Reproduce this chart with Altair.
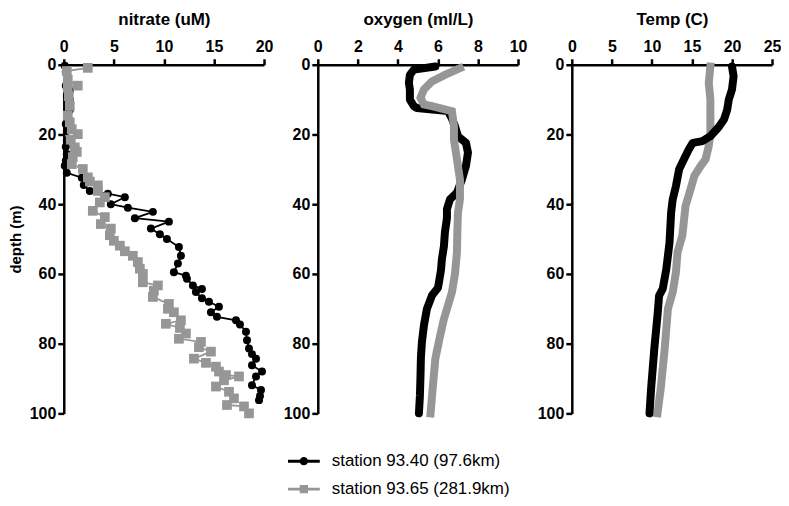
import altair as alt
import pandas as pd

STATIONS = ["station 93.40 (97.6km)", "station 93.65 (281.9km)"]
COLORS = ["#000000", "#969696"]

# ---- nitrate (uM) ----
nit_a_depth = [0.3, 2, 4.6, 6, 7.4, 9, 10, 12, 13, 15, 17, 19, 21.7, 23.5, 25.6, 27.5, 29, 31,
               32.4, 34.5, 36.2, 37, 38, 40, 41, 42.2, 44, 45, 47, 48.6, 50, 52.3, 54.8, 57,
               59.5, 60.5, 61.4, 63.3, 64.3, 65.2, 67, 68, 69.4, 71, 72.3, 73.3, 74.5, 76.6,
               79, 81.4, 83, 84.3, 86.2, 88, 89.4, 91.9, 93.3, 95, 96.2]
nit_a_value = [0.1, 0.2, 0.4, 0.2, 0.6, 0.3, 0.6, 0.4, 0.6, 0.4, 0.2, 0.3, 0.3, 0.2, 0.3, 0.2, 0.1, 0.3,
               1.8, 2.0, 2.6, 4.4, 6.1, 4.7, 6.4, 8.9, 7.1, 10.5, 8.7, 9.6, 10.3, 11.5, 11.7, 11.4,
               11.0, 12.2, 12.3, 12.9, 13.8, 13.2, 13.8, 14.5, 15.5, 14.7, 15.3, 17.2, 17.6, 18.2,
               18.3, 18.5, 18.8, 19.2, 18.8, 19.8, 19.2, 18.8, 19.7, 19.6, 19.5]
nit_b_depth = [0.9, 1.8, 4.3, 6, 6.6, 9, 11.8, 14.6, 16.5, 18.5, 19.9, 21.5, 23.7, 25, 26.5, 28.5,
               29.9, 32.3, 33.5, 34.6, 36.2, 38, 39.5, 41.9, 43.7, 45.7, 47, 48.9, 50.5, 51.9, 53.5,
               54.8, 56.6, 58.5, 60, 62.4, 63.3, 64.8, 66.6, 68.6, 70, 71, 73.3, 74.3, 75.5, 77.1,
               78.6, 79.5, 81, 82.3, 84.3, 85.5, 86.6, 88, 89, 89.4, 90.5, 92.3, 93.8, 95.7, 97.6,
               98, 100]
nit_b_value = [2.4, 0.3, 0.4, 1.4, 0.4, 0.5, 0.6, 0.4, 0.6, 0.8, 1.4, 0.7, 1.1, 1.3, 0.9, 0.8,
               1.9, 2.4, 2.6, 3.4, 3.4, 4.1, 3.6, 2.9, 4.1, 3.7, 4.7, 4.6, 5.0, 5.6, 6.1,
               6.9, 7.4, 7.6, 7.9, 7.9, 9.4, 9.0, 8.9, 10.5, 10.4, 11.0, 11.7, 10.2, 11.6, 12.2,
               11.5, 13.7, 13.5, 14.7, 13.0, 14.2, 15.2, 15.5, 16.2, 17.5, 16.0, 15.2, 16.5, 17.0, 16.3,
               18.0, 18.5]

# ---- oxygen (ml/L) ----
oxy_a_depth = [0.5, 1.4, 2.9, 5.2, 7.1, 10, 11.9, 12.4, 13.3, 15.5, 17.6, 20.5, 22.4, 25.2, 29,
               32.9, 36.7, 38.6, 41.4, 44, 48, 52, 55.7, 59, 62.4, 64, 66.2, 70, 74.8, 79.5, 84,
               89, 95, 100]
oxy_a_value = [5.87, 4.8, 4.6, 4.55, 4.6, 4.6, 4.8, 4.95, 6.5, 6.7, 6.85, 7.0, 7.4, 7.5, 7.4,
               7.2, 6.95, 6.6, 6.45, 6.45, 6.35, 6.3, 6.2, 6.15, 6.05, 6.0, 5.7, 5.45, 5.3, 5.2, 5.15,
               5.13, 5.1, 5.05]
oxy_b_depth = [1, 2.9, 4.8, 7.1, 9.5, 11.4, 11.9, 13.3, 17.6, 21.4, 27.1, 32.9, 38.6, 42.4, 48,
               53.8, 60, 65.2, 72.9, 78, 84.3, 92, 100]
oxy_b_value = [7.1, 6.35, 5.7, 5.3, 5.13, 5.3, 5.7, 6.7, 6.8, 6.8, 6.95, 7.1, 7.1, 7.0, 6.97,
               6.95, 6.85, 6.7, 6.3, 6.1, 5.87, 5.75, 5.63]

# ---- temperature (C) ----
tmp_a_depth = [0.5, 3.3, 7.1, 10, 12.9, 15.7, 18, 20.5, 21.9, 22.4, 24.3, 27.1, 30, 34.8, 38.6,
               42.4, 51, 58.6, 64.3, 66.2, 71.9, 81.4, 92.9, 100]
tmp_a_value = [20.0, 20.2, 20.0, 19.6, 19.4, 19.0, 18.3, 17.3, 16.3, 15.1, 14.6, 14.0, 13.4, 13.0,
               12.6, 12.4, 12.2, 11.8, 11.35, 10.9, 10.7, 10.3, 9.9, 9.7]
tmp_b_depth = [0.5, 5.2, 10, 14.8, 19.5, 23.3, 27.1, 29, 31.9, 36.7, 40.5, 49, 53.8, 59.5, 65.2,
               70, 81.4, 92.9, 100]
tmp_b_value = [17.3, 17.1, 17.3, 17.3, 17.3, 17.1, 16.7, 16.1, 15.3, 14.7, 14.2, 13.8, 13.2, 13.0,
               12.6, 12.0, 11.6, 11.1, 10.7]

FONT = "Liberation Sans"
W, H = 201, 350

LEGEND_PATHS = [
    "M-1,-0.09H1V0.09H-1Z M0.26,0 A0.26,0.26 0 1,1 -0.26,0 A0.26,0.26 0 1,1 0.26,0Z",
    "M-1,-0.09H1V0.09H-1Z M-0.26,-0.26H0.26V0.26H-0.26Z",
]


def frame(depth, value, station):
    return pd.DataFrame({"depth": depth, "value": value, "station": station})


def enc_xy(title, xmax, step, ytitle):
    x = alt.X("value:Q",
              scale=alt.Scale(domain=[0, xmax], nice=False, zero=True),
              axis=alt.Axis(orient="top", title=title, values=list(range(0, xmax + 1, step))))
    yaxis = alt.Axis(values=[0, 20, 40, 60, 80, 100], title=ytitle) if ytitle else \
        alt.Axis(values=[0, 20, 40, 60, 80, 100], title="")
    y = alt.Y("depth:Q", scale=alt.Scale(domain=[0, 100], reverse=True, nice=False), axis=yaxis)
    return x, y


def series_layers(dfa, dfb, x, y, thick, gray_on_top):
    layers_a = []
    layers_b = []
    if thick:
        layers_a.append(alt.Chart(dfa).mark_line(color=COLORS[0], strokeWidth=8, strokeCap="round",
                                                 strokeJoin="round")
                        .encode(x=x, y=y, order="depth:Q"))
        layers_b.append(alt.Chart(dfb).mark_line(color=COLORS[1], strokeWidth=8, strokeCap="square",
                                                 strokeJoin="miter")
                        .encode(x=x, y=y, order="depth:Q"))
    else:
        layers_a.append(alt.Chart(dfa).mark_line(color=COLORS[0], strokeWidth=1.8)
                        .encode(x=x, y=y, order="depth:Q"))
        layers_a.append(alt.Chart(dfa).mark_point(color=COLORS[0], filled=True, opacity=1,
                                                  shape="circle", size=64)
                        .encode(x=x, y=y))
        layers_b.append(alt.Chart(dfb).mark_line(color=COLORS[1], strokeWidth=1.8)
                        .encode(x=x, y=y, order="depth:Q"))
        layers_b.append(alt.Chart(dfb).mark_point(color=COLORS[1], filled=True, opacity=1,
                                                  shape="square", size=95)
                        .encode(x=x, y=y))
    return layers_a + layers_b if gray_on_top else layers_b + layers_a


LEG = dict(title=None, orient="none", legendX=225, legendY=386)

# nitrate panel
x1, y1 = enc_xy("nitrate (uM)", 20, 5, "depth (m)")
nit_a = frame(nit_a_depth, nit_a_value, STATIONS[0])
nit_b = frame(nit_b_depth, nit_b_value, STATIONS[1])
legend_layer = alt.Chart(pd.concat([nit_a, nit_b])).transform_filter("false").mark_point(
    filled=True, opacity=1).encode(
    x=x1, y=y1,
    color=alt.Color("station:N", scale=alt.Scale(domain=STATIONS, range=COLORS),
                    legend=alt.Legend(**LEG)),
    shape=alt.Shape("station:N", scale=alt.Scale(domain=STATIONS, range=LEGEND_PATHS),
                    legend=alt.Legend(**LEG)),
)
p1 = alt.layer(*series_layers(nit_a, nit_b, x1, y1, False, True), legend_layer).properties(
    width=W, height=H)

# oxygen panel
x2, y2 = enc_xy("oxygen (ml/L)", 10, 2, None)
p2 = alt.layer(*series_layers(frame(oxy_a_depth, oxy_a_value, STATIONS[0]),
                              frame(oxy_b_depth, oxy_b_value, STATIONS[1]),
                              x2, y2, True, True)).properties(width=W, height=H)

# temperature panel
x3, y3 = enc_xy("Temp (C)", 25, 5, None)
p3 = alt.layer(*series_layers(frame(tmp_a_depth, tmp_a_value, STATIONS[0]),
                              frame(tmp_b_depth, tmp_b_value, STATIONS[1]),
                              x3, y3, True, False)).properties(width=W, height=H)

chart = alt.hconcat(p1, p2, p3, spacing=54, bounds="flush").properties(
    padding={"left": 0, "top": 2, "right": 0, "bottom": 0}
).configure_view(
    stroke=None
).configure_axis(
    grid=False,
    labelFlush=False,
    domainColor="#000000",
    domainWidth=2.5,
    tickColor="#000000",
    tickWidth=2.5,
    tickSize=6,
    labelFont=FONT,
    labelFontSize=16,
    labelFontWeight="bold",
    labelColor="#000000",
    titleFont=FONT,
    titleFontSize=17,
    titleFontWeight="bold",
    titleColor="#000000",
).configure_axisX(
    labelPadding=4,
    titlePadding=10,
).configure_axisY(
    labelPadding=2,
    titlePadding=6,
    titleFontSize=15,
).configure_legend(
    symbolSize=1024,
    symbolStrokeWidth=0,
    labelFont=FONT,
    labelFontSize=17,
    labelColor="#000000",
    labelOffset=12,
    labelLimit=400,
    rowPadding=4,
    clipHeight=24,
    padding=0,
)

chart.save("out.html", embed_options={"renderer": "svg", "actions": False})
